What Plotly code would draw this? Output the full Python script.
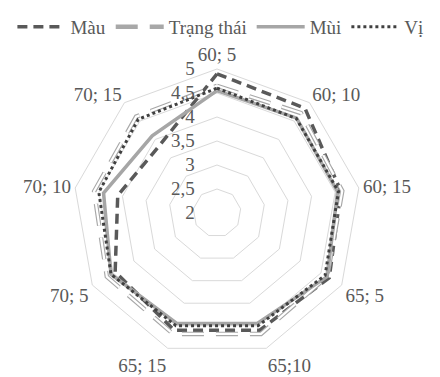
import plotly.graph_objects as go

categories = ["60; 5", "60; 10", "60; 15", "65; 5", "65;10", "65; 15", "70; 5", "70; 10", "70; 15"]
mau = [4.9, 4.85, 4.62, 4.7, 4.6, 4.6, 4.45, 4.1, 3.85]
trang_thai = [4.65, 4.72, 4.65, 4.65, 4.68, 4.68, 4.65, 4.6, 4.62]
mui = [4.55, 4.58, 4.55, 4.65, 4.45, 4.45, 4.55, 4.4, 4.1]
vi = [4.6, 4.57, 4.57, 4.6, 4.5, 4.5, 4.55, 4.5, 4.55]
radial_ticks = [2, 2.5, 3, 3.5, 4, 4.5, 5]
radial_text = ["2", "2,5", "3", "3,5", "4", "4,5", "5"]

def closed(v):
    return list(v) + [v[0]]

cats = closed(categories)
FONT = "Liberation Serif"
TXT = "#595959"
NB = "\u00a0"
pad_text = [t + NB * 4 for t in radial_text]

fig = go.Figure()
fig.add_trace(go.Scatterpolar(r=closed(mau), theta=cats, mode="lines", name="Màu",
                              line=dict(color="#595959", width=3.5, dash="10px,6px")))
fig.add_trace(go.Scatterpolar(r=closed(trang_thai), theta=cats, mode="lines", name="Trạng thái",
                              legendgroup="tt",
                              line=dict(color="#a8a8a8", width=4.5, dash="22px,12px")))
fig.add_trace(go.Scatterpolar(r=closed(trang_thai), theta=cats, mode="lines", name="Trạng thái",
                              legendgroup="tt", showlegend=False,
                              line=dict(color="#ffffff", width=2.2, dash="22px,12px")))
fig.add_trace(go.Scatterpolar(r=closed(mui), theta=cats, mode="lines", name="Mùi",
                              line=dict(color="#a6a6a6", width=3.5)))
fig.add_trace(go.Scatterpolar(r=closed(vi), theta=cats, mode="lines", name="Vị",
                              line=dict(color="#404040", width=3, dash="dot")))

cx, cy, R = 209, 205, 144
fig.update_layout(
    width=440, height=377,
    margin=dict(l=0, r=0, t=0, b=0),
    paper_bgcolor="white",
    font=dict(family=FONT, size=19, color=TXT),
    showlegend=True,
    legend=dict(orientation="h", x=0.01, y=1.0, xanchor="left", yanchor="top",
                font=dict(family=FONT, size=19, color=TXT),
                itemwidth=48, bgcolor="rgba(0,0,0,0)"),
    polar=dict(
        domain=dict(x=[(cx - R) / 440, (cx + R) / 440],
                    y=[1 - (cy + R) / 377, 1 - (cy - R) / 377]),
        bgcolor="white",
        gridshape="linear",
        radialaxis=dict(range=[2, 5], tickvals=radial_ticks, ticktext=pad_text,
                        angle=90, tickangle=90, side="counterclockwise",
                        showline=False, ticks="", ticklen=0,
                        gridcolor="#d9d9d9", gridwidth=1,
                        tickfont=dict(family=FONT, size=19, color=TXT)),
        angularaxis=dict(direction="clockwise", rotation=90, showgrid=False,
                         showline=True, linecolor="#d9d9d9", linewidth=1,
                         ticks="", ticklen=0,
                         tickfont=dict(family=FONT, size=19, color=TXT)),
    ),
)

fig.write_html("out.html")
